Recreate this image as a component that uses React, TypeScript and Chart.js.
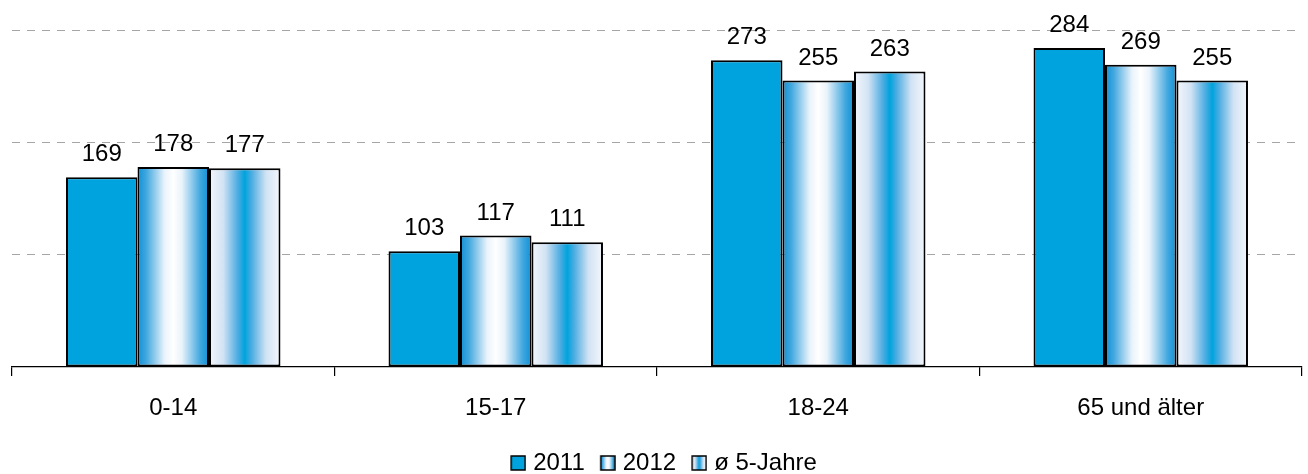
import React, { useEffect, useRef } from "react";
import { Chart, registerables } from "chart.js";

Chart.register(...registerables);

const categories = ["0-14", "15-17", "18-24", "65 und älter"];
const seriesNames = ["2011", "2012", "ø 5-Jahre"];
const values2011 = [169, 103, 273, 284];
const values2012 = [178, 117, 255, 269];
const values5J = [177, 111, 263, 255];
const yTicks = [0, 100, 200, 300];

const FONT = "'Liberation Sans', Arial, Helvetica, sans-serif";
const FS = 24;
const BLUE = "rgb(0,163,221)";
const CAT_PCT = 0.665;

function addStops(g: CanvasGradient, kind: number) {
  if (kind === 1) {
    g.addColorStop(0, "#1090d5");
    g.addColorStop(0.12, "#40a7df");
    g.addColorStop(0.38, "#eaf3fb");
    g.addColorStop(0.5, "#ffffff");
    g.addColorStop(0.62, "#eaf3fb");
    g.addColorStop(0.88, "#40a7df");
    g.addColorStop(1, "#1090d5");
  } else {
    g.addColorStop(0, "#f4f7fc");
    g.addColorStop(0.2, "#d2e3f4");
    g.addColorStop(0.4, "#4fade2");
    g.addColorStop(0.5, "#00a3dd");
    g.addColorStop(0.6, "#4fade2");
    g.addColorStop(0.8, "#d2e3f4");
    g.addColorStop(1, "#f4f7fc");
  }
}

function barFill(dsIndex: number) {
  return (ctx: any) => {
    if (dsIndex === 0) return BLUE;
    const chart = ctx.chart;
    const xs = chart.scales && chart.scales.x;
    if (!xs || !chart.chartArea || ctx.dataIndex === undefined) return BLUE;
    const spacing = xs.width / categories.length;
    const size = spacing * CAT_PCT;
    const chunk = size / 3;
    const pixel = xs.getPixelForValue(ctx.dataIndex);
    const left = pixel - size / 2 + chunk * dsIndex;
    const g = chart.ctx.createLinearGradient(left, 0, left + chunk, 0);
    addStops(g, dsIndex);
    return g;
  };
}

// legend marker: transparent left area, 16px box at the right edge
function legendBox(kind: number) {
  const W = 34;
  const c = document.createElement("canvas");
  c.width = W;
  c.height = 16;
  const x = c.getContext("2d")!;
  const bx = W - 16;
  if (kind === 0) {
    x.fillStyle = BLUE;
  } else {
    const g = x.createLinearGradient(bx + 1, 0, bx + 15, 0);
    addStops(g, kind);
    x.fillStyle = g;
  }
  x.fillRect(bx + 1, 1, 14, 14);
  x.strokeStyle = "#000";
  x.lineWidth = 1.5;
  x.strokeRect(bx + 1, 1, 14, 14);
  return c;
}

const valueLabels = {
  id: "valueLabels",
  afterDatasetsDraw(chart: any) {
    const ctx = chart.ctx;
    ctx.save();
    ctx.font = `${FS}px ${FONT}`;
    ctx.fillStyle = "#000";
    ctx.textAlign = "center";
    ctx.textBaseline = "alphabetic";
    chart.data.datasets.forEach((ds: any, i: number) => {
      const meta = chart.getDatasetMeta(i);
      meta.data.forEach((el: any, j: number) => {
        ctx.fillText(String(ds.data[j]), el.x, el.y - 16);
      });
    });
    ctx.restore();
  },
};

export default function App() {
  const ref = useRef<HTMLCanvasElement>(null);
  useEffect(() => {
    document.body.style.margin = "0";
    const boxes = [legendBox(0), legendBox(1), legendBox(2)];
    const chart = new Chart(ref.current!, {
      type: "bar",
      data: {
        labels: categories,
        datasets: [values2011, values2012, values5J].map((d, i) => ({
          label: seriesNames[i],
          data: d,
          backgroundColor: barFill(i),
          borderColor: "#000",
          borderWidth: 2,
          borderSkipped: false,
          categoryPercentage: CAT_PCT,
          barPercentage: 1,
          pointStyle: boxes[i],
        })),
      },
      options: {
        responsive: false,
        animation: false,
        layout: { padding: { top: 30, left: 12, right: 6, bottom: -11 } },
        plugins: {
          tooltip: { enabled: false },
          legend: {
            position: "bottom",
            labels: {
              usePointStyle: true,
              pointStyleWidth: 24,
              boxHeight: 16,
              font: { family: FONT, size: FS },
              color: "#000",
              padding: 2,
              generateLabels: () =>
                seriesNames.map((n, i) => ({
                  text: n,
                  pointStyle: boxes[i],
                  fillStyle: BLUE,
                  strokeStyle: "#000",
                  lineWidth: 0,
                  datasetIndex: i,
                  hidden: false,
                  fontColor: "#000",
                })),
            },
          },
        },
        scales: {
          x: {
            grid: {
              offset: true,
              drawOnChartArea: false,
              drawTicks: true,
              tickLength: 9,
              color: "#000",
              lineWidth: 1.2,
            },
            border: { display: true, color: "#000", width: 1.2 },
            ticks: {
              font: { family: FONT, size: FS },
              color: "#000",
              padding: 18,
            },
            afterFit: (s: any) => {
              s.height = 82;
            },
          },
          y: {
            min: 0,
            max: 300,
            afterBuildTicks: (s: any) => {
              s.ticks = yTicks.map((v) => ({ value: v }));
            },
            afterFit: (s: any) => {
              s.width = 0;
            },
            ticks: { display: false },
            border: { display: false, dash: [8, 7] },
            grid: {
              drawTicks: false,
              color: (c: any) => (c.tick && c.tick.value === 0 ? "rgba(0,0,0,0)" : "#a6a6a6"),
              lineWidth: 1,
            },
          },
        },
      },
      plugins: [valueLabels],
    });
    return () => chart.destroy();
  }, []);
  return (
    <div style={{ position: "absolute", left: 0, top: 0, width: 1308, height: 474, background: "#fff" }}>
      <canvas ref={ref} width={1308} height={474} />
    </div>
  );
}
